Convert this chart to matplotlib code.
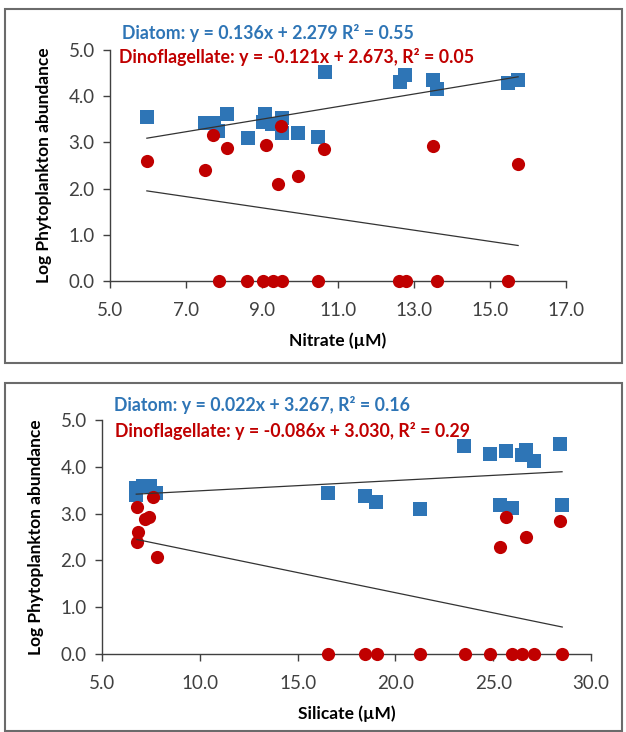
import numpy as np
import matplotlib.pyplot as plt
from matplotlib.patches import Rectangle

plt.rcParams['font.family'] = ['Lato', 'DejaVu Sans']

BLUE = '#2E75B6'
RED = '#C00000'
W, H = 626, 732

# Nitrate panel
nit_diatom_x = [5.97, 7.50, 7.74, 7.84, 8.08, 8.63, 9.03, 9.08, 9.26, 9.53, 9.53,
                9.95, 10.47, 10.66, 12.63, 12.76, 13.50, 13.60, 15.47, 15.74]
nit_diatom_y = [3.55, 3.42, 3.42, 3.25, 3.61, 3.10, 3.44, 3.61, 3.40, 3.53, 3.20,
                3.20, 3.12, 4.52, 4.31, 4.46, 4.35, 4.15, 4.28, 4.35]
nit_dino_x = [5.97, 7.50, 7.71, 8.08, 9.10, 9.42, 9.50, 9.95, 10.63, 13.50, 15.74,
              7.87, 8.61, 9.02, 9.30, 9.53, 10.48, 12.61, 12.79, 13.61, 15.48]
nit_dino_y = [2.60, 2.40, 3.16, 2.88, 2.94, 2.10, 3.36, 2.27, 2.86, 2.93, 2.53,
              0, 0, 0, 0, 0, 0, 0, 0, 0, 0]

# Silicate panel
sil_diatom_x = [6.75, 6.75, 7.10, 7.45, 7.75, 16.53, 18.47, 19.03, 21.28, 23.50,
                24.85, 25.36, 25.66, 25.97, 26.48, 26.68, 27.10, 28.42, 28.52]
sil_diatom_y = [3.55, 3.40, 3.60, 3.60, 3.44, 3.44, 3.38, 3.25, 3.10, 4.44,
                4.27, 3.18, 4.34, 3.12, 4.25, 4.36, 4.12, 4.49, 3.18]
sil_dino_x = [6.78, 6.84, 6.79, 7.19, 7.40, 7.60, 7.80, 25.36, 25.66, 26.68, 28.42,
              16.55, 18.45, 19.04, 21.28, 23.54, 24.83, 25.95, 26.46, 27.09, 28.53]
sil_dino_y = [3.14, 2.60, 2.40, 2.88, 2.93, 3.35, 2.08, 2.29, 2.93, 2.50, 2.84,
              0, 0, 0, 0, 0, 0, 0, 0, 0, 0]

# trend lines as given in the chart labels: (slope, intercept)
nit_fit = {'diatom': (0.136, 2.279), 'dino': (-0.121, 2.673)}
sil_fit = {'diatom': (0.022, 3.267), 'dino': (-0.086, 3.030)}

nit_labels = ['Diatom: y = 0.136x + 2.279 R\u00b2 = 0.55',
              'Dinoflagellate: y = -0.121x + 2.673, R\u00b2 = 0.05']
sil_labels = ['Diatom: y = 0.022x + 3.267, R\u00b2 = 0.16',
              'Dinoflagellate: y = -0.086x + 3.030, R\u00b2 = 0.29']


def px_box(x0, y0, x1, y1):
    return [x0 / W, 1 - y1 / H, (x1 - x0) / W, (y1 - y0) / H]


fig = plt.figure(figsize=(W / 100, H / 100), dpi=100)

# panel frames
for box in [px_box(5, 9, 622, 363), px_box(5, 383, 622, 731)]:
    fig.patches.append(Rectangle(box[:2], box[2], box[3], transform=fig.transFigure,
                                 fill=False, edgecolor='#6b6b6b', linewidth=1.5))


def panel(rect, dx, dy, kx, ky, fit, xlim, xstep, xlabel, labels, label_pos):
    ax = fig.add_axes(px_box(*rect))
    ax.scatter(dx, dy, marker='s', s=90, color=BLUE, linewidths=0, clip_on=False, zorder=3)
    ax.scatter(kx, ky, marker='o', s=90, color=RED, linewidths=0, clip_on=False, zorder=4)
    for (xs, key) in [(dx, 'diatom'), (kx, 'dino')]:
        m, b = fit[key]
        xx = np.array([min(xs), max(xs)])
        ax.plot(xx, m * xx + b, color='#333333', lw=0.9, zorder=5)
    ax.set_xlim(*xlim)
    ax.set_ylim(0, 5)
    ax.set_xticks(np.arange(xlim[0], xlim[1] + 0.01, xstep))
    ax.set_yticks(np.arange(0, 5.01, 1))
    ax.xaxis.set_major_formatter(plt.FormatStrFormatter('%.1f'))
    ax.yaxis.set_major_formatter(plt.FormatStrFormatter('%.1f'))
    for s in ['top', 'right']:
        ax.spines[s].set_visible(False)
    for s in ['left', 'bottom']:
        ax.spines[s].set_color('#404040')
        ax.spines[s].set_linewidth(1.0)
    ax.tick_params(direction='out', length=5, width=1.0, color='#404040',
                   labelcolor='#404040', labelsize=13.5)
    ax.tick_params(axis='x', pad=10)
    ax.tick_params(axis='y', pad=6)
    ax.set_xlabel(xlabel, fontsize=12.5, fontweight='bold', labelpad=10)
    ax.set_ylabel('Log Phytoplankton abundance', fontsize=12.5, fontweight='bold', labelpad=12)
    for txt, col, (px, py) in zip(labels, [BLUE, RED], label_pos):
        fig.text(px / W, 1 - py / H, txt, color=col, fontsize=12.8, fontweight='bold',
                 ha='left', va='center')
    return ax


panel((110, 50, 566, 281), nit_diatom_x, nit_diatom_y, nit_dino_x, nit_dino_y,
      nit_fit, (5, 17), 2, 'Nitrate (\u00b5M)', nit_labels, [(122, 33), (119, 57)])
panel((102, 420, 591, 654), sil_diatom_x, sil_diatom_y, sil_dino_x, sil_dino_y,
      sil_fit, (5, 30), 5, 'Silicate (\u00b5M)', sil_labels, [(114, 405), (115, 431)])

fig.savefig('out.png', dpi=100)
